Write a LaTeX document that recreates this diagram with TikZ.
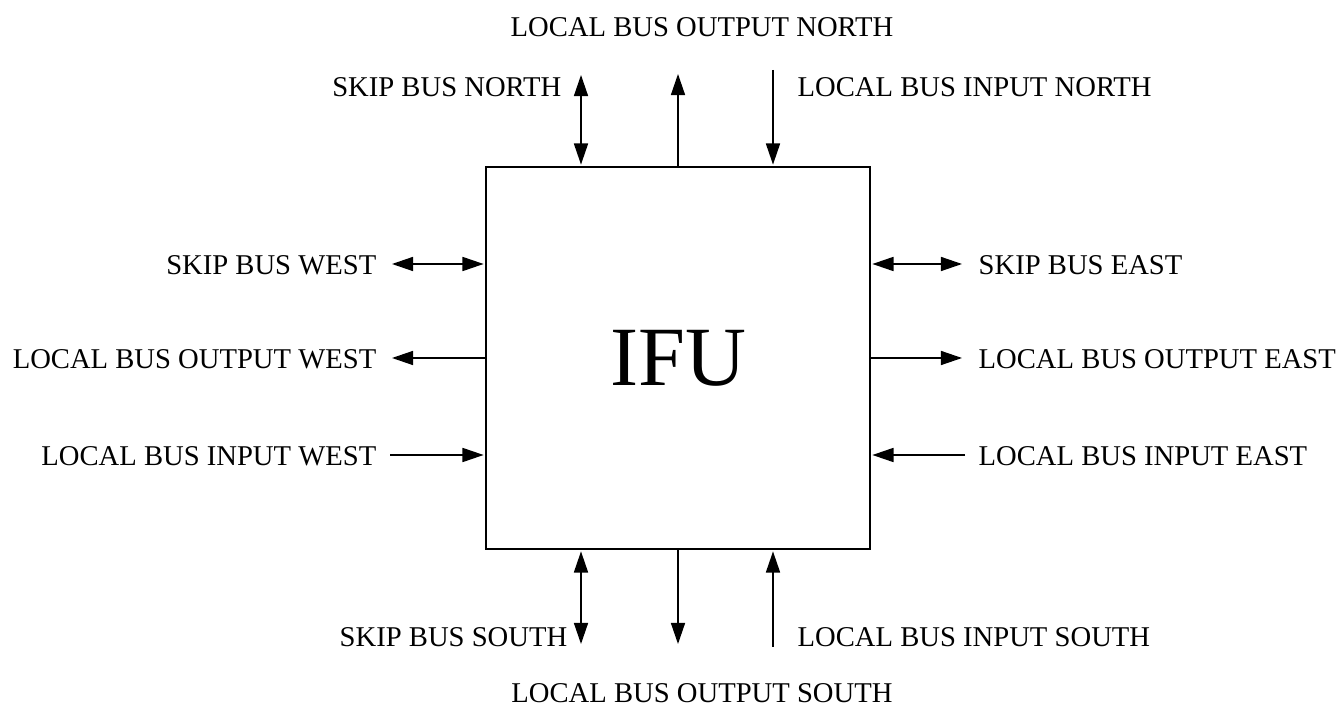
\documentclass[tikz,border=0pt]{standalone}
\usepackage{fontspec}
\setmainfont{Liberation Serif}
\usetikzlibrary{arrows.meta}
\begin{document}
\begin{tikzpicture}[x=0.02cm,y=-0.02cm,>={Triangle[length=12pt,width=8pt]},line width=0.8pt,
  lbl/.style={inner sep=0pt,font=\fontsize{16.3}{19}\selectfont},
  bus/.style={shorten >=1pt}]
\useasboundingbox (0,0) rectangle (1340,709);

% --- Blocco centrale ---
\node[draw,minimum width=7.68cm,minimum height=7.64cm,font=\fontsize{48}{56}\selectfont] (ifu) at (678,358) {IFU};

% --- Nord ---
\node[lbl,anchor=east] (skipN) at (562,87) {SKIP BUS NORTH};
\node[lbl,anchor=west] (inN) at (797,87) {LOCAL BUS INPUT NORTH};
\node[lbl] (outN) at (702,27) {LOCAL BUS OUTPUT NORTH};
\coordinate (skipNa) at (581,75);
\coordinate (outNa) at (678,74);
\coordinate (inNa) at (773,70);
\draw[<->,bus] (skipNa) -- (skipNa |- ifu.north);
\draw[->] (outNa |- ifu.north) -- (outNa);
\draw[->,bus] (inNa) -- (inNa |- ifu.north);

% --- Ovest ---
\node[lbl,anchor=east] (skipW) at (377,265) {SKIP BUS WEST};
\node[lbl,anchor=east] (outW) at (377,359) {LOCAL BUS OUTPUT WEST};
\node[lbl,anchor=east] (inW) at (377,456) {LOCAL BUS INPUT WEST};
\coordinate (skipWa) at (392,264);
\coordinate (outWa) at (392,358);
\coordinate (inWa) at (390,455);
\draw[<->,bus] (skipWa) -- (skipWa -| ifu.west);
\draw[->] (outWa -| ifu.west) -- (outWa);
\draw[->,bus] (inWa) -- (inWa -| ifu.west);

% --- Est ---
\node[lbl,anchor=west] (skipE) at (978,265) {SKIP BUS EAST};
\node[lbl,anchor=west] (outE) at (978,359) {LOCAL BUS OUTPUT EAST};
\node[lbl,anchor=west] (inE) at (978,456) {LOCAL BUS INPUT EAST};
\coordinate (skipEa) at (962,264);
\coordinate (outEa) at (962,358);
\coordinate (inEa) at (965,455);
\draw[<->,bus] (skipEa) -- (skipEa -| ifu.east);
\draw[->] (outEa -| ifu.east) -- (outEa);
\draw[->,bus] (inEa) -- (inEa -| ifu.east);

% --- Sud ---
\node[lbl,anchor=east] (skipS) at (568,637) {SKIP BUS SOUTH};
\node[lbl,anchor=west] (inS) at (797,637) {LOCAL BUS INPUT SOUTH};
\node[lbl] (outS) at (702,693) {LOCAL BUS OUTPUT SOUTH};
\coordinate (skipSa) at (581,644);
\coordinate (outSa) at (678,644);
\coordinate (inSa) at (773,647);
\draw[<->,bus] (skipSa) -- (skipSa |- ifu.south);
\draw[->] (outSa |- ifu.south) -- (outSa);
\draw[->,bus] (inSa) -- (inSa |- ifu.south);

\end{tikzpicture}
\end{document}
